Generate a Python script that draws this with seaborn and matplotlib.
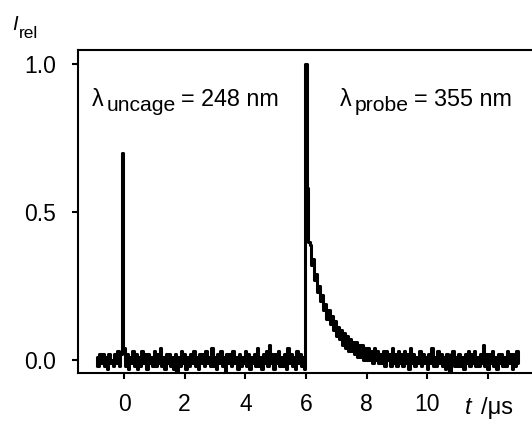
import numpy as np
import pandas as pd
import matplotlib.pyplot as plt
import seaborn as sns

W, H = 532, 421

# sampling of the transient recorder trace (µs)
T_START = -0.90
T_STEP = 0.05

# trace, one value per sample
pre_trigger = [0.01, -0.02, 0.02, -0.01, 0.02, -0.02, 0.01, -0.03, 0.02, -0.01,
               0.00, -0.02, 0.02, -0.01, 0.03, -0.02, 0.02]
uncage_peak = [0.70]
baseline = [
    0.04, -0.02, 0.02, -0.03, 0.01, -0.01, 0.03, -0.02, 0.02, -0.03,
    0.01, -0.02, 0.03, -0.01, 0.02, -0.03, 0.02, -0.01, 0.01, -0.02,
    0.03, -0.02, 0.02, -0.01, 0.04, -0.02, 0.01, -0.03, 0.02, -0.01,
    0.02, -0.02, 0.01, -0.03, 0.02, -0.05, 0.01, -0.02, 0.03, -0.01,
    0.02, -0.03, 0.01, -0.02, 0.02, -0.01, 0.03, -0.02, 0.01, -0.03,
    0.02, -0.01, 0.02, -0.02, 0.03, -0.01, 0.01, -0.02, 0.04, -0.02,
    0.01, -0.03, 0.02, -0.01, 0.03, -0.02, 0.01, -0.04, 0.02, -0.01,
    0.02, -0.02, 0.03, -0.01, 0.01, -0.03, 0.02, -0.02, 0.01, -0.01,
    0.03, -0.02, 0.02, -0.03, 0.01, -0.01, 0.02, -0.02, 0.04, -0.02,
    0.01, -0.03, 0.02, -0.01, 0.03, -0.02, 0.05, -0.01, 0.02, -0.03,
    0.02, -0.01, 0.03, -0.02, 0.01, -0.02, 0.02, -0.03, 0.04, -0.01,
    0.02, -0.02, 0.01, -0.03, 0.03, -0.01, 0.02, -0.02, 0.01, -0.03,
]
probe_peak = [1.00]
decay = [
    0.58, 0.40, 0.39, 0.32, 0.34, 0.27, 0.29, 0.23, 0.25, 0.20,
    0.22, 0.17, 0.19, 0.14, 0.17, 0.12, 0.15, 0.10, 0.13, 0.08,
    0.11, 0.07, 0.10, 0.05, 0.09, 0.04, 0.08, 0.03, 0.07, 0.03,
    0.06, 0.02, 0.06, 0.01, 0.05, 0.01, 0.05, 0.00, 0.04, 0.00,
    0.04, 0.00, 0.03, -0.01, 0.04, 0.00, 0.03, -0.01, 0.02, -0.01,
    0.03, -0.02, 0.03, 0.00, 0.02, -0.02, 0.04, -0.01, 0.02, -0.02,
    0.03, -0.01, 0.02, -0.02, 0.03, -0.01, 0.02, -0.03, 0.04, -0.01,
    0.02, -0.02, 0.01, -0.01, 0.03, -0.02, 0.02, -0.01, 0.01, -0.03,
    0.02, -0.01, 0.04, -0.02, 0.01, -0.02, 0.03, -0.01, 0.02, -0.02,
    0.01, -0.03, 0.02, -0.01, -0.05, 0.02, 0.03, -0.02, 0.01, -0.02,
    0.02, -0.02, 0.01, -0.03, 0.02, -0.01, 0.03, -0.02, 0.02, -0.01,
    0.03, -0.02, 0.01, -0.02, 0.02, -0.01, 0.05, -0.02, 0.02, -0.03,
    0.02, -0.01, 0.03, -0.02, 0.01, -0.03, 0.02, -0.01, 0.02, -0.02,
    0.01, -0.02, 0.03, -0.01, 0.02, -0.03, 0.02, -0.02, 0.03, -0.01,
]

x_ticks = [0, 2, 4, 6, 8, 10, 12]
x_tick_labels = ["0", "2", "4", "6", "8", "10", ""]
y_ticks = [0.0, 0.5, 1.0]
y_tick_labels = ["0.0", "0.5", "1.0"]

signal = pre_trigger + uncage_peak + baseline + probe_peak + decay
time_us = np.round(T_START + T_STEP * np.arange(len(signal)), 2)
df = pd.DataFrame({"t": time_us, "I_rel": signal})

sns.set_theme(style="ticks", rc={
    "axes.edgecolor": "black", "xtick.color": "black", "ytick.color": "black",
    "text.color": "black", "axes.labelcolor": "black",
})
plt.rcParams["font.family"] = ["Liberation Sans", "DejaVu Sans"]

fig = plt.figure(figsize=(W / 100, H / 100), dpi=100)
ax = fig.add_axes([78 / W, 48 / H, 1 - 78 / W, (373 - 50) / H])

# sample-and-hold look of the digitiser trace
sns.lineplot(data=df, x="t", y="I_rel", color="black", linewidth=2.2,
             drawstyle="steps-mid", estimator=None, ax=ax)

ax.set_xlim(-1.517, 13.45)
ax.set_ylim(-0.044, 1.047)
ax.set_xticks(x_ticks, x_tick_labels)
ax.set_yticks(y_ticks, y_tick_labels)
ax.set_xlabel("")
ax.set_ylabel("")
ax.spines["right"].set_visible(False)
for side in ["left", "top", "bottom"]:
    ax.spines[side].set_linewidth(1.5)
ax.tick_params(direction="out", length=4.5, width=1.5, labelsize=16.5, pad=10)
ax.tick_params(axis="y", pad=11)


def chained_label(x_px, y_px, head, sub, rest, head_style="normal",
                  size=16.8, sub_size=15.2, drop=3, gap=2):
    # head, lowered subscript, then the rest of the label on the head's baseline
    t_head = fig.text(x_px / W, 1 - y_px / H, head, fontsize=size,
                      style=head_style, va="baseline")
    t_sub = ax.annotate(sub, xy=(1, 0), xycoords=t_head, xytext=(gap, -drop),
                        textcoords="offset points", fontsize=sub_size, va="bottom")
    if rest:
        ax.annotate(rest, xy=(1, 0), xycoords=t_sub, xytext=(4, drop),
                    textcoords="offset points", fontsize=size, va="bottom")


chained_label(92, 106, "λ", "uncage", "= 248 nm")
chained_label(340, 106, "λ", "probe", "= 355 nm")
chained_label(12, 30, "I", "rel", None, head_style="italic", size=14.5,
              sub_size=12.5, drop=5, gap=1)

fig.text(465 / W, 1 - 414 / H, "t", fontsize=17, style="italic", va="baseline")
fig.text(481 / W, 1 - 414 / H, "/μs", fontsize=17, va="baseline")

fig.savefig("out.png", dpi=100)
